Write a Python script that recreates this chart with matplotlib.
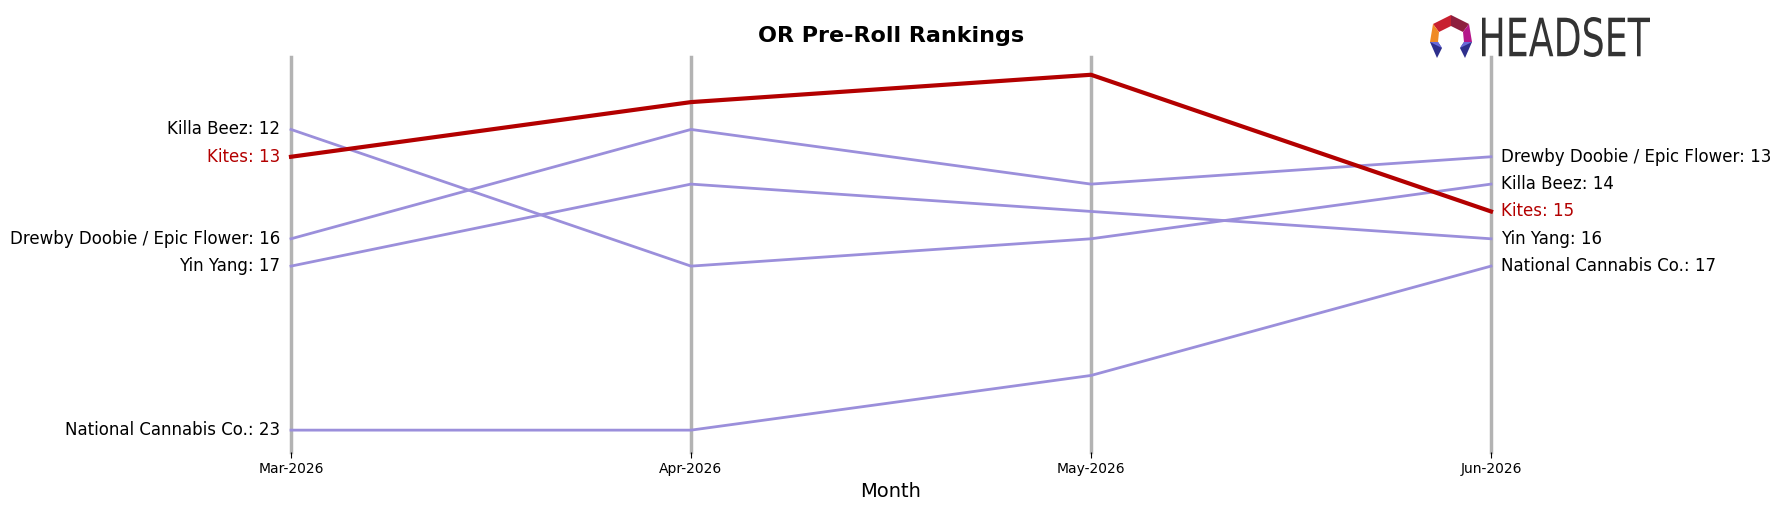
import matplotlib.pyplot as plt
from matplotlib.patches import Polygon, PathPatch
from matplotlib.textpath import TextPath
from matplotlib.font_manager import FontProperties
from matplotlib.transforms import Affine2D, IdentityTransform

months = ["Mar-2026", "Apr-2026", "May-2026", "Jun-2026"]
brands = ["Killa Beez", "Drewby Doobie / Epic Flower", "Yin Yang", "National Cannabis Co.", "Kites"]
killa_beez = [12, 17, 16, 14]
drewby = [16, 12, 14, 13]
yin_yang = [17, 14, 15, 16]
national = [23, 23, 21, 17]
kites = [13, 11, 10, 15]
ranks = [killa_beez, drewby, yin_yang, national, kites]

purple = "#9b8fdb"
red = "#b30000"

fig = plt.figure(figsize=(17.82, 5.07), dpi=100)
ax = fig.add_axes([291 / 1782, 55 / 507, 1200 / 1782, 395 / 507])

x = list(range(len(months)))
for xi in x:
    ax.axvline(xi, color="#b3b3b3", lw=2.5, zorder=1, clip_on=False)

for name, r in zip(brands, ranks):
    hl = name == "Kites"
    col = red if hl else purple
    ax.plot(x, r, color=col, lw=3 if hl else 2, zorder=3 if hl else 2, clip_on=False)
    ax.annotate(f"{name}: {r[0]}", (x[0], r[0]), xytext=(-11, 0), textcoords="offset pixels",
                ha="right", va="center", fontsize=12, color=red if hl else "black")
    ax.annotate(f"{name}: {r[-1]}", (x[-1], r[-1]), xytext=(10, 0), textcoords="offset pixels",
                ha="left", va="center", fontsize=12, color=red if hl else "black")

ax.set_xlim(0, 3)
ax.set_ylim(23.8, 9.35)
ax.set_xticks(x)
ax.set_xticklabels(months, fontsize=10)
ax.set_yticks([])
ax.tick_params(axis="x", length=4, color="black")
for s in ax.spines.values():
    s.set_visible(False)
ax.set_xlabel("Month", fontsize=14)

fig.text(0.5, 1 - 36 / 507, "OR Pre-Roll Rankings", ha="center", va="center",
         fontsize=16, fontweight="bold")

# logo: condensed wordmark squeezed into its box (pixel coords)
W, H = 1782, 507
tp = TextPath((0, 0), "HEADSET", size=50, prop=FontProperties(family="DejaVu Sans"))
ext = tp.get_extents()
x0, x1, y0, y1 = 1482, 1650, H - 57, H - 17
tr = Affine2D().translate(-ext.x0, -ext.y0).scale((x1 - x0) / ext.width, (y1 - y0) / ext.height).translate(x0, y0)
fig.patches.append(PathPatch(tr.transform_path(tp), facecolor="#333333", edgecolor="none",
                             transform=IdentityTransform(), figure=fig))

def pts(p):
    return [(a / W, 1 - b / H) for a, b in p]
cx = 1451
shapes = [
    ([(cx, 15), (cx - 18, 24), (cx - 12, 32), (cx, 26)], "#c8202f"),
    ([(cx, 15), (cx + 18, 24), (cx + 12, 32), (cx, 26)], "#8e1f3e"),
    ([(cx - 18, 24), (cx - 21, 42), (cx - 13, 42), (cx - 12, 32)], "#f08a24"),
    ([(cx + 18, 24), (cx + 21, 42), (cx + 13, 42), (cx + 12, 32)], "#b5178a"),
    ([(cx - 21, 42), (cx - 13, 42), (cx - 9, 48), (cx - 14, 58)], "#2e2f8c"),
    ([(cx + 21, 42), (cx + 13, 42), (cx + 9, 48), (cx + 14, 58)], "#2e2f8c"),
    ([(cx - 21, 42), (cx - 13, 42), (cx - 9, 48)], "#6a6ad8"),
    ([(cx + 21, 42), (cx + 13, 42), (cx + 9, 48)], "#6a6ad8"),
]
for p, c in shapes:
    fig.patches.append(Polygon(pts(p), closed=True, facecolor=c, edgecolor="none",
                               transform=fig.transFigure, figure=fig))

fig.savefig("out.png", dpi=100)
